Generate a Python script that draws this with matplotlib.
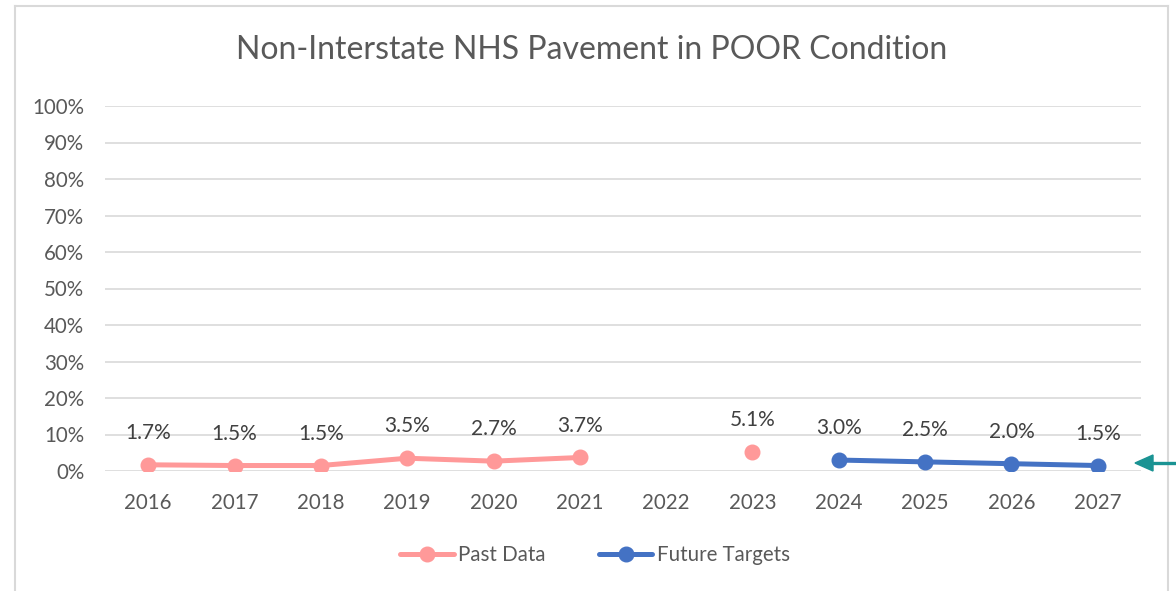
import matplotlib.pyplot as plt
import numpy as np
from matplotlib.patches import Polygon

plt.rcParams['font.family'] = ['Lato', 'DejaVu Sans']

# data
years = ['2016', '2017', '2018', '2019', '2020', '2021', '2022', '2023',
         '2024', '2025', '2026', '2027']
past = [1.7, 1.5, 1.5, 3.5, 2.7, 3.7, np.nan, 5.1, np.nan, np.nan, np.nan, np.nan]
future = [np.nan] * 8 + [3.0, 2.5, 2.0, 1.5]

pink = '#FF9999'
blue = '#4472C4'
txt = '#595959'

fig = plt.figure(figsize=(11.76, 5.91), dpi=100)
ax = fig.add_axes([105 / 1176, 1 - 471 / 591, 1036 / 1176, 365 / 591])

x = np.arange(len(years))
ax.plot(x, past, color=pink, lw=3.6, marker='o', ms=10.5, label='Past Data',
        solid_capstyle='round')
ax.plot(x, future, color=blue, lw=3.6, marker='o', ms=10.5, label='Future Targets',
        solid_capstyle='round')

for series in (past, future):
    for xi, v in zip(x, series):
        if not np.isnan(v):
            ax.annotate(f'{v:.1f}%', (xi, v), xytext=(0, 23), textcoords='offset points',
                        ha='center', va='center', fontsize=15, color='#404040')

ax.set_xlim(-0.5, len(years) - 0.5)
ax.set_ylim(0, 100)
ax.set_yticks(np.arange(0, 101, 10))
ax.set_yticklabels([f'{t}%' for t in range(0, 101, 10)])
ax.set_xticks(x)
ax.set_xticklabels(years)
ax.tick_params(length=0, labelsize=14.8, labelcolor=txt)
ax.tick_params(axis='y', pad=15)
ax.tick_params(axis='x', pad=16)
ax.grid(axis='y', color='#d9d9d9', lw=1.2)
ax.set_axisbelow(True)
for s in ax.spines.values():
    s.set_visible(False)

fig.text(592 / 1176, 1 - 50 / 591, 'Non-Interstate NHS Pavement in POOR Condition',
         ha='center', va='center', fontsize=23, color=txt)

leg = fig.legend(loc='center', bbox_to_anchor=(595 / 1176, 1 - 555 / 591), ncol=2,
                 frameon=False, fontsize=14.8, handlelength=2.6, columnspacing=2.6,
                 handletextpad=0.2)
for t in leg.get_texts():
    t.set_color(txt)

# chart frame
fx0, fx1, fy1 = 15 / 1176, 1168 / 1176, 1 - 6 / 591
for xs, ys in [([fx0, fx0], [0, fy1]), ([fx0, fx1], [fy1, fy1]), ([fx1, fx1], [fy1, 0])]:
    fig.add_artist(plt.Line2D(xs, ys, transform=fig.transFigure, color='#d9d9d9', lw=1.5))

# teal arrow at the right edge
ay = 1 - 463 / 591
fig.add_artist(plt.Line2D([1150 / 1176, 1.0], [ay, ay], transform=fig.transFigure,
                          color='#1A9393', lw=2.4))
fig.add_artist(Polygon([[1135 / 1176, ay], [1153 / 1176, ay + 8 / 591],
                        [1153 / 1176, ay - 8 / 591]], closed=True,
                       transform=fig.transFigure, color='#1A9393'))

fig.savefig('out.png', dpi=100)
